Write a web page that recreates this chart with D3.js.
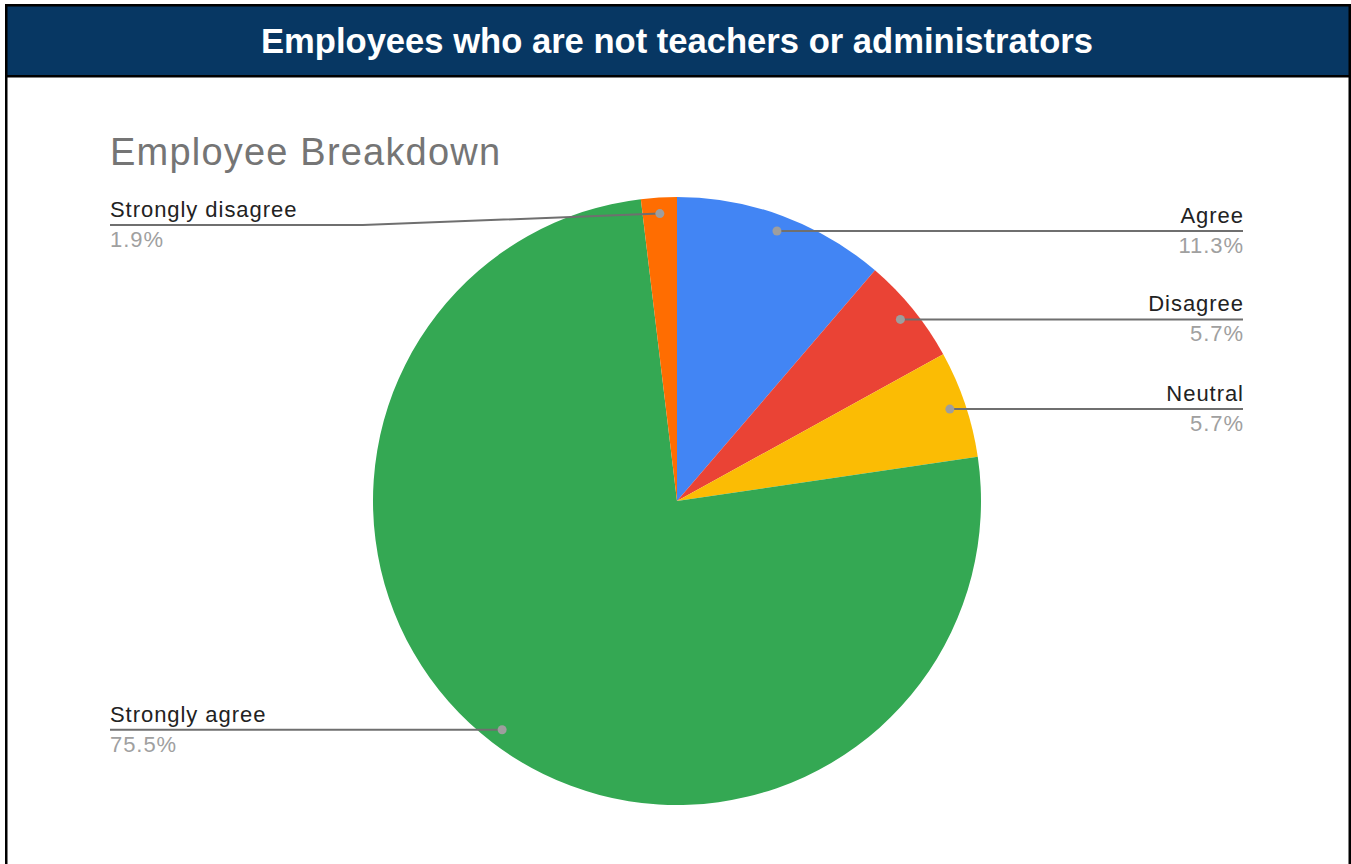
<!DOCTYPE html>
<html>
<head>
<meta charset="utf-8">
<script src="https://cdn.jsdelivr.net/npm/d3@7"></script>
<style>
  html, body { margin: 0; padding: 0; background: #fff; }
  svg { display: block; }
</style>
</head>
<body>
<svg id="chart" width="1351" height="864"></svg>
<script>
const headerTitle = "Employees who are not teachers or administrators";
const chartTitle = "Employee Breakdown";
const categories = ["Agree", "Disagree", "Neutral", "Strongly agree", "Strongly disagree"];
const values = [11.3, 5.7, 5.7, 75.5, 1.9];
const percentLabels = ["11.3%", "5.7%", "5.7%", "75.5%", "1.9%"];
const colors = ["#4285f4", "#ea4335", "#fbbc04", "#34a853", "#ff6d01"];

const W = 1351, H = 864;
const FONT = "Liberation Sans, Arial, sans-serif";
const svg = d3.select("#chart");

// header band
svg.append("rect").attr("x", 5).attr("y", 4).attr("width", W - 5).attr("height", 73).attr("fill", "#073763");
svg.append("text")
  .attr("x", 677).attr("y", 53)
  .attr("text-anchor", "middle")
  .attr("font-family", FONT)
  .attr("font-weight", "bold")
  .attr("font-size", 34.6)
  .attr("fill", "#ffffff")
  .text(headerTitle);

// borders
svg.append("rect").attr("x", 5).attr("y", 4).attr("width", W - 5).attr("height", 2.5).attr("fill", "#000");
svg.append("rect").attr("x", 5).attr("y", 75).attr("width", W - 5).attr("height", 2.5).attr("fill", "#000");
svg.append("rect").attr("x", 5).attr("y", 4).attr("width", 2.5).attr("height", H - 4).attr("fill", "#000");
svg.append("rect").attr("x", W - 2.5).attr("y", 4).attr("width", 2.5).attr("height", H - 4).attr("fill", "#000");

// chart title
svg.append("text")
  .attr("x", 110).attr("y", 165)
  .attr("font-family", FONT)
  .attr("font-size", 38)
  .attr("letter-spacing", 1.2)
  .attr("fill", "#757575")
  .text(chartTitle);

// pie
const cx = 677, cy = 501, R = 304;
const data = categories.map((c, i) => ({ name: c, value: values[i], pct: percentLabels[i], color: colors[i] }));
const pie = d3.pie().sort(null).value(d => d.value);
const arcs = pie(data);
const arc = d3.arc().innerRadius(0).outerRadius(R);
const g = svg.append("g").attr("transform", `translate(${cx},${cy})`);
g.selectAll("path.slice").data(arcs).join("path")
  .attr("class", "slice")
  .attr("d", arc)
  .attr("fill", d => d.data.color);

// labels with leader lines
const dotR = R * 0.947;
const leftX = 110, rightX = 1243, minLabelY = 225;
const LS = 0.95;
const lab = svg.append("g");
arcs.forEach(a => {
  const mid = (a.startAngle + a.endAngle) / 2;
  const dx = cx + dotR * Math.sin(mid);
  const dy = cy - dotR * Math.cos(mid);
  const right = Math.sin(mid) >= 0;
  const ly = Math.max(dy, minLabelY);
  const ex = right ? rightX : leftX;
  let pts;
  if (Math.abs(ly - dy) > 0.5) {
    const bx = dx + (right ? 1 : -1) * 297;
    pts = [[dx, dy], [bx, ly], [ex, ly]];
  } else {
    pts = [[dx, dy], [ex, ly]];
  }
  lab.append("path")
    .attr("d", d3.line()(pts))
    .attr("fill", "none")
    .attr("stroke", "#6f6f6f")
    .attr("stroke-width", 2);
  lab.append("circle").attr("cx", dx).attr("cy", dy).attr("r", 4.5).attr("fill", "#9e9e9e");
  lab.append("text")
    .attr("x", ex + (right ? LS : 0)).attr("y", ly - 8)
    .attr("text-anchor", right ? "end" : "start")
    .attr("font-family", FONT)
    .attr("font-size", 22)
    .attr("letter-spacing", LS)
    .attr("fill", "#222222")
    .text(a.data.name);
  lab.append("text")
    .attr("x", ex + (right ? LS : 0)).attr("y", ly + 22)
    .attr("text-anchor", right ? "end" : "start")
    .attr("font-family", FONT)
    .attr("font-size", 22)
    .attr("letter-spacing", LS)
    .attr("fill", "#a0a0a0")
    .text(a.data.pct);
});
</script>
</body>
</html>
